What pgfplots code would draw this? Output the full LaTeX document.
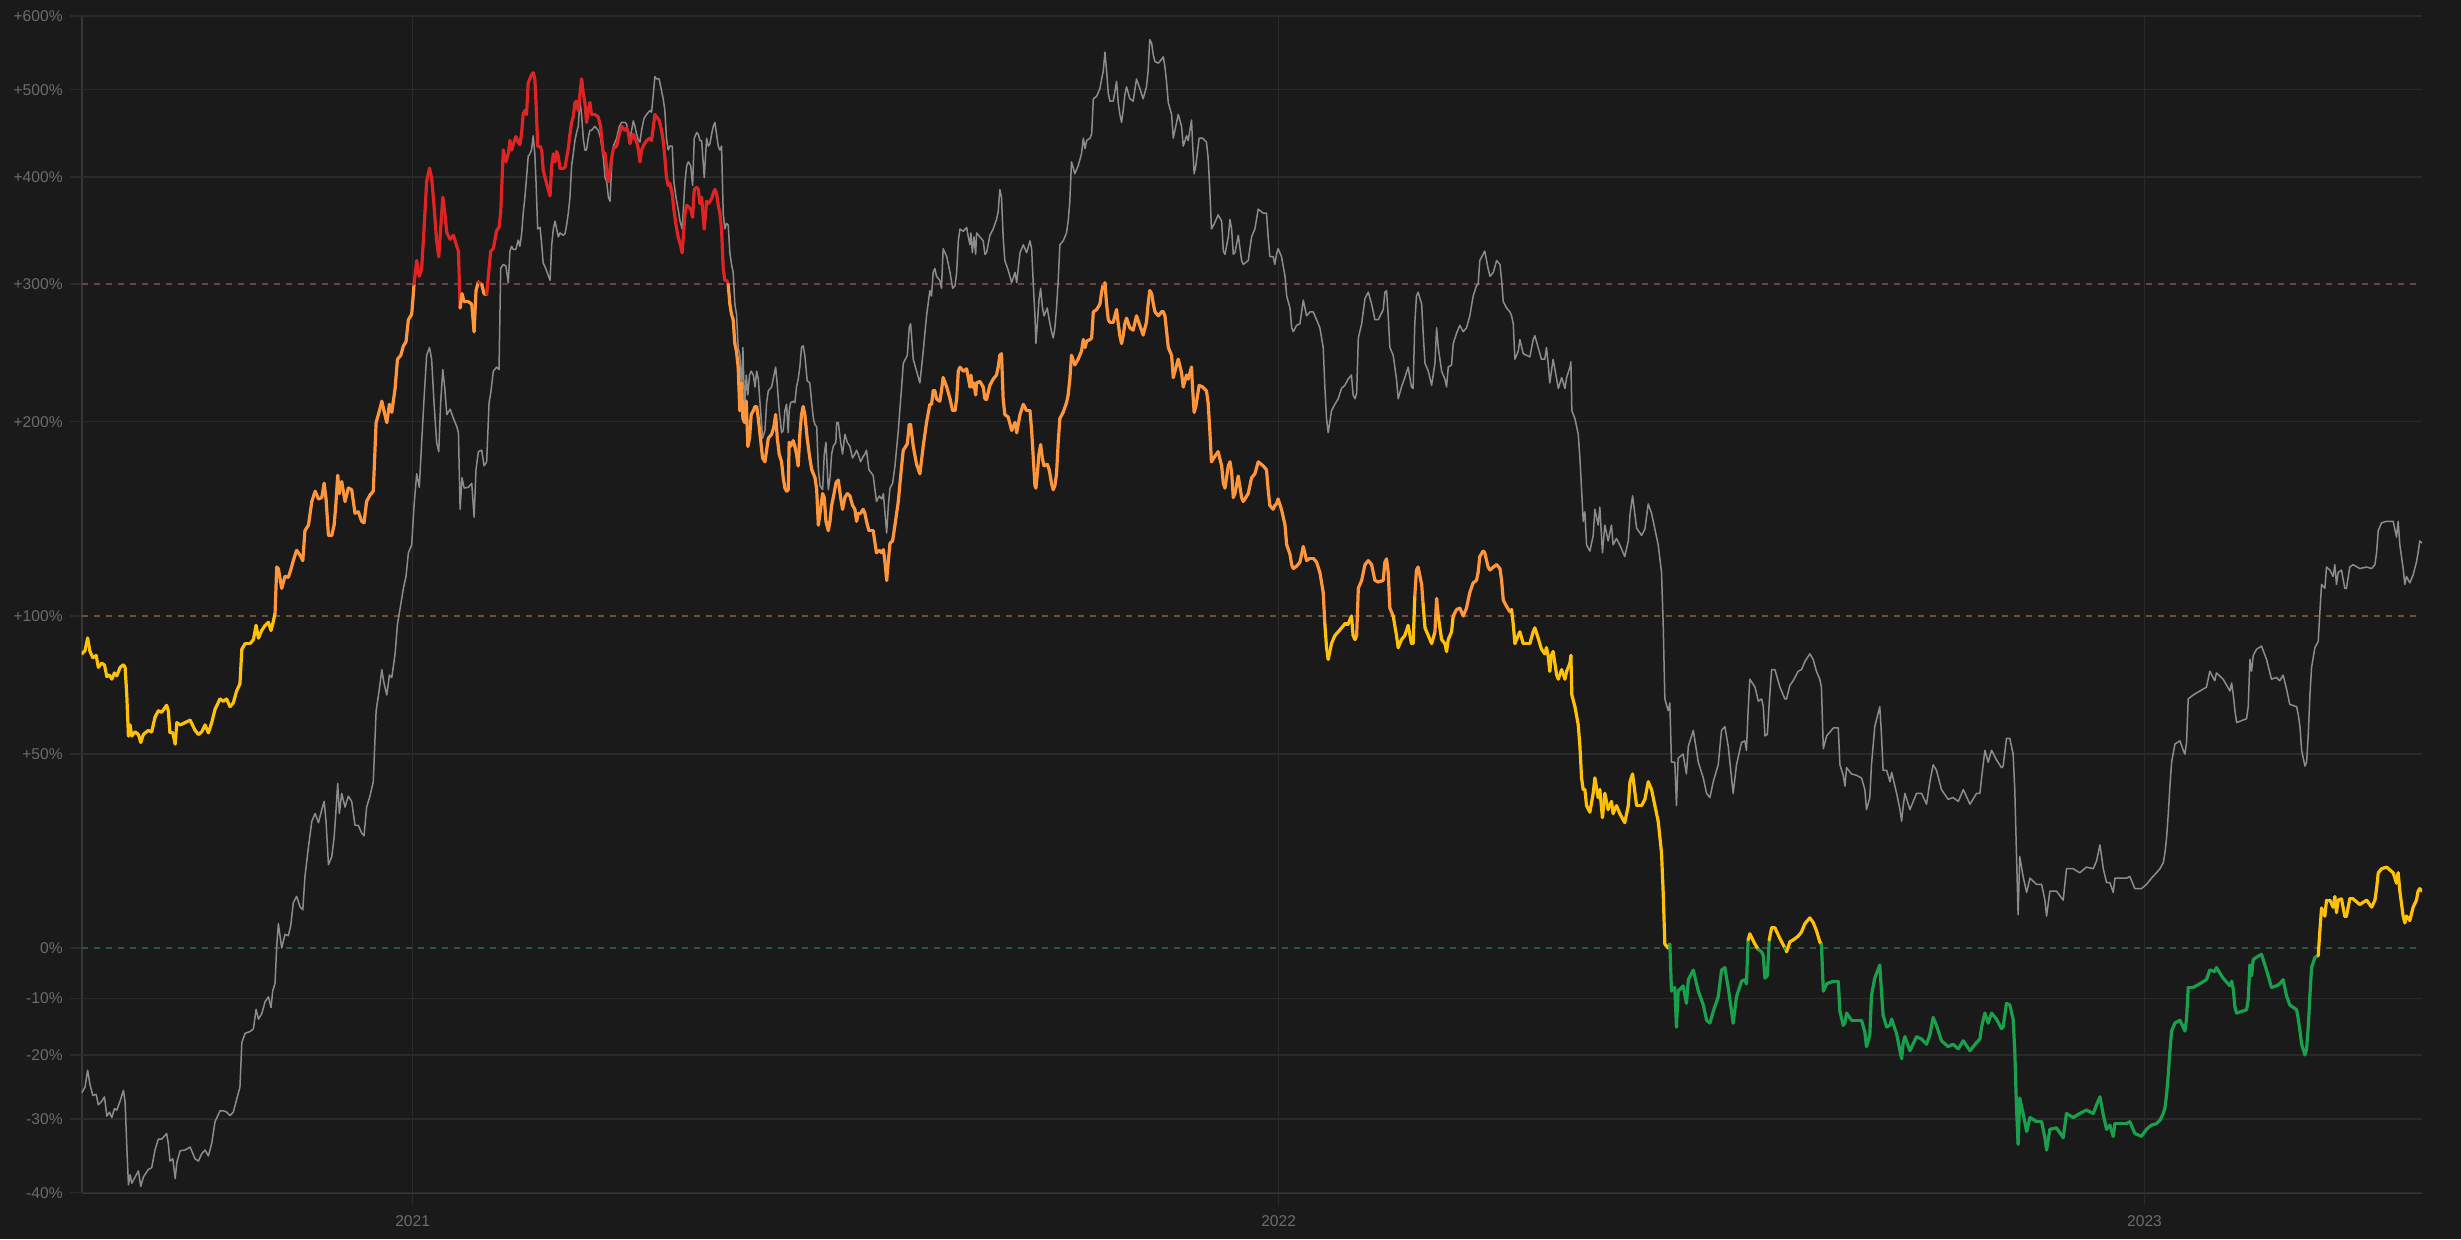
\documentclass[border=0pt]{standalone}
\usepackage{fontspec}
\setmainfont{Liberation Sans}
\usepackage{pgfplots}
\usepackage{pgfplotstable}
\pgfplotsset{compat=1.18}
\definecolor{bg}{HTML}{1A1A1A}
\definecolor{gridc}{HTML}{2A2A2A}
\definecolor{axisc}{HTML}{363636}
\definecolor{labc}{HTML}{6C6C6C}
\definecolor{grayline}{HTML}{8C8C8C}
\definecolor{cyellow}{HTML}{FFC107}
\definecolor{corange}{HTML}{FF963C}
\definecolor{cred}{HTML}{E02424}
\definecolor{cgreen}{HTML}{1AA04C}
\definecolor{d300}{HTML}{6A4444}
\definecolor{d100}{HTML}{6B5036}
\definecolor{d0}{HTML}{2B573B}

% d = days since 2021-01-01, g = grey series (%), c = coloured series (%)
\pgfplotstableread{
d g c
-139.5 -26.1 84.8
-138.1 -25.2 86.0
-137.0 -22.5 91.0
-136.0 -24.8 85.7
-134.8 -26.5 83.3
-133.4 -26.3 84.2
-132.5 -27.9 79.7
-131.1 -27.4 81.2
-129.9 -26.7 80.6
-128.9 -29.6 76.2
-127.8 -29.0 76.8
-126.8 -29.8 75.3
-125.7 -28.5 77.6
-124.7 -28.7 76.5
-123.3 -27.3 79.7
-121.9 -25.7 80.6
-121.2 -27.5 79.7
-120.5 -33.8 69.6
-119.8 -39.0 55.7
-119.1 -37.7 59.3
-118.4 -38.8 55.7
-117.0 -38.0 57.0
-115.6 -37.2 56.2
-114.6 -39.2 53.6
-113.5 -38.0 56.2
-111.4 -37.0 57.5
-110.0 -36.8 57.0
-108.6 -34.4 61.9
-107.2 -32.9 64.1
-105.8 -32.9 63.6
-103.7 -32.1 66.0
-103.0 -33.5 64.1
-102.3 -35.9 56.7
-101.1 -35.6 56.7
-100.1 -38.2 53.1
-99.4 -36.1 60.1
-98.0 -34.5 59.3
-95.9 -34.4 60.1
-93.8 -34.0 60.9
-91.7 -35.6 57.5
-90.3 -35.9 56.2
-88.9 -34.9 57.0
-87.5 -34.4 59.3
-86.1 -35.2 56.7
-84.7 -33.5 60.1
-83.3 -30.4 64.6
-81.2 -28.8 68.2
-79.8 -28.8 67.4
-78.4 -29.0 68.2
-77.0 -29.5 65.5
-75.6 -29.0 66.8
-74.2 -27.1 71.0
-72.8 -25.2 73.6
-72.0 -17.9 86.6
-70.6 -16.3 88.8
-68.5 -16.0 88.8
-67.1 -15.5 90.4
-66.0 -12.0 96.1
-65.0 -13.8 91.0
-63.6 -12.8 94.1
-62.2 -10.6 96.1
-60.8 -9.7 97.4
-59.7 -11.7 94.1
-59.0 -8.6 96.7
-58.0 -7.1 101.0
-57.3 0.3 121.5
-56.6 5.2 120.8
-55.2 0.0 111.9
-53.8 2.9 117.2
-52.4 2.6 116.8
-51.4 4.8 120.1
-50.3 9.9 124.5
-48.9 11.4 129.4
-47.5 9.0 127.1
-46.3 8.3 124.5
-45.4 16.1 139.0
-43.9 23.6 141.8
-42.5 30.3 154.0
-41.1 32.4 159.5
-39.7 29.9 155.3
-38.3 33.5 156.1
-37.3 35.8 163.8
-36.5 30.3 155.3
-35.5 19.0 136.6
-34.1 21.0 136.6
-33.1 26.0 141.8
-32.4 32.4 151.9
-31.6 41.0 168.2
-30.9 32.4 158.2
-29.9 38.1 164.7
-28.5 34.2 154.0
-27.1 37.3 161.2
-25.7 35.8 160.3
-24.3 29.2 147.8
-22.9 29.2 148.6
-21.5 27.1 143.7
-20.5 26.4 142.9
-19.4 34.2 154.0
-18.0 37.3 157.4
-16.6 41.5 159.5
-15.4 64.1 199.5
-14.0 71.9 207.0
-13.0 78.8 213.1
-12.1 73.9 207.0
-10.9 69.6 199.5
-9.8 76.8 211.1
-8.8 75.9 206.0
-7.4 84.8 221.6
-6.4 96.7 241.8
-5.0 105.0 244.6
-3.9 111.9 251.5
-2.8 117.2 254.4
-1.8 128.2 271.2
-0.4 132.0 275.5
0.6 151.9 299.7
1.7 169.1 320.0
2.8 161.6 306.4
3.8 187.4 313.1
4.8 214.7 348.6
5.9 244.6 395.2
7.1 250.3 409.3
8.0 241.8 399.3
9.0 212.1 371.3
10.1 187.4 337.6
11.0 181.8 323.5
11.8 212.1 348.6
12.7 234.5 379.2
13.5 222.6 365.1
14.4 204.5 344.9
15.8 208.0 339.1
17.2 202.0 342.7
18.6 197.0 332.6
19.3 193.2 328.3
20.0 149.9 280.4
20.8 166.9 291.9
21.7 161.2 285.4
23.5 161.6 285.4
24.9 163.8 283.6
25.9 145.8 262.0
26.7 171.4 294.5
27.7 181.8 301.7
29.1 182.7 299.7
30.1 173.6 291.9
31.2 175.9 291.3
32.2 212.1 313.1
32.9 218.4 328.3
34.0 233.4 330.5
35.4 236.2 347.1
36.4 234.5 350.1
37.1 313.1 363.6
38.2 316.6 428.9
39.3 315.2 416.1
40.3 301.0 424.6
41.0 328.3 439.5
41.7 332.6 428.9
42.4 329.8 435.0
43.5 329.8 443.9
44.5 338.3 437.7
45.2 332.6 435.0
45.9 343.4 446.7
46.6 363.6 470.7
47.3 379.2 474.4
48.0 399.3 469.7
48.7 422.0 508.5
49.4 424.6 513.5
50.1 428.9 518.6
50.8 444.9 521.6
51.5 424.6 513.5
52.0 395.2 483.9
52.7 348.6 433.3
53.7 350.1 433.3
54.4 334.0 428.9
55.0 317.9 407.6
55.8 314.5 399.3
56.7 309.7 391.2
57.9 303.0 380.8
58.6 334.0 411.8
59.3 348.6 424.6
60.0 356.0 416.1
60.7 348.6 427.2
61.4 341.2 422.0
62.1 344.9 409.3
63.5 342.7 409.3
64.2 344.2 410.1
64.9 352.3 420.3
65.6 363.6 430.6
66.3 379.2 446.7
67.0 411.8 460.4
67.7 424.6 466.9
68.4 439.5 483.9
69.1 448.5 485.8
69.8 455.7 474.4
70.5 486.8 493.6
71.2 469.7 513.5
71.9 442.2 495.5
72.6 428.9 483.9
73.3 428.9 460.4
74.0 442.2 474.4
74.7 451.2 483.9
75.4 451.2 469.7
76.8 455.7 469.7
78.2 451.2 466.9
79.2 442.2 455.7
80.4 420.3 424.6
81.1 399.3 425.5
81.8 395.2 407.6
82.5 379.2 395.2
83.2 375.3 407.6
83.9 411.8 420.3
84.6 433.3 430.6
86.0 442.2 433.3
87.1 455.7 446.7
88.1 460.4 455.7
89.5 460.4 451.2
90.2 458.5 453.9
90.9 446.7 448.5
91.6 442.2 436.0
92.3 451.2 442.2
93.0 462.2 446.7
93.7 455.7 442.2
94.4 446.7 437.7
95.1 440.4 430.6
95.8 437.7 416.1
96.5 451.2 428.9
97.5 465.0 435.0
98.6 469.7 439.5
100.0 474.4 442.2
100.7 472.5 439.5
101.4 493.6 453.9
102.1 516.6 469.7
102.8 513.5 466.9
103.9 513.5 463.0
104.9 498.5 451.2
105.6 488.7 439.5
106.3 474.4 420.3
107.0 442.2 399.3
107.7 428.9 391.2
108.4 433.3 393.6
109.4 433.3 383.2
110.1 395.2 367.5
111.0 379.2 352.3
111.9 367.5 341.2
112.7 356.0 335.5
113.6 348.6 326.9
114.8 395.2 363.6
115.5 411.8 371.3
116.2 416.1 369.8
117.2 411.8 367.5
118.0 391.2 359.8
118.7 442.2 387.1
119.7 448.5 389.5
120.4 446.7 387.1
121.1 439.5 372.9
121.8 439.5 379.2
122.9 399.3 348.6
123.9 442.2 375.3
124.6 433.3 372.9
125.3 435.9 375.3
126.0 446.7 377.6
126.7 455.7 383.2
127.4 460.4 387.1
128.1 446.7 383.2
128.8 433.3 371.3
129.5 428.9 363.6
130.2 433.3 348.6
130.9 363.6 313.1
131.6 348.6 303.0
132.3 353.8 303.0
133.0 352.3 299.7
133.7 326.9 283.6
134.4 316.6 275.5
135.1 309.7 271.2
135.8 283.6 253.2
136.5 275.5 247.5
137.2 250.3 236.2
137.9 244.6 207.0
138.6 220.0 225.3
139.2 250.3 202.0
139.9 207.0 199.5
140.6 230.7 213.1
141.3 217.3 185.0
142.0 230.7 189.8
142.7 233.4 204.5
143.6 230.7 207.0
144.3 222.6 209.6
145.0 233.4 209.6
145.7 227.9 202.0
146.4 212.1 192.2
147.5 189.8 178.1
148.5 194.6 175.9
149.2 212.1 182.7
149.9 220.0 189.8
151.3 222.6 192.2
152.3 230.7 197.0
153.0 236.2 204.5
153.7 223.7 189.8
154.5 207.0 180.4
155.5 193.2 175.9
156.2 194.6 166.9
156.9 207.0 161.2
157.6 211.1 159.5
158.3 193.2 160.3
158.7 207.0 187.4
159.3 212.1 185.0
160.4 213.1 188.4
161.1 212.1 185.0
161.8 222.6 180.4
162.5 227.9 173.6
163.2 236.2 192.2
163.9 250.3 204.5
164.6 251.5 209.6
165.3 244.6 204.5
166.3 226.8 189.8
167.4 225.3 178.1
168.2 212.1 171.4
168.9 202.0 169.1
169.6 198.0 166.9
170.3 197.0 160.3
171.0 171.4 141.8
171.7 162.5 147.8
172.8 160.3 158.2
173.5 180.4 156.1
174.2 187.4 143.7
175.2 160.3 139.0
175.9 166.9 143.7
176.6 180.4 151.9
177.3 185.0 156.1
178.4 187.4 163.8
178.7 199.5 164.7
179.4 199.5 165.6
180.4 187.4 156.1
181.2 180.4 149.9
182.2 192.2 156.1
183.2 187.4 158.2
184.3 185.0 157.0
185.4 178.1 151.9
186.4 180.4 149.9
187.1 182.7 143.7
187.8 180.4 147.8
188.8 175.9 147.8
189.9 179.0 149.9
190.6 180.4 147.8
191.3 182.7 143.7
192.3 171.4 139.0
194.1 168.2 139.0
195.5 154.0 128.2
196.7 156.9 129.3
197.7 155.3 128.2
198.4 158.2 129.7
199.1 147.8 123.8
199.8 137.8 115.4
200.5 151.9 124.5
201.2 161.2 132.8
202.3 163.8 133.9
203.3 173.6 141.8
204.7 194.6 154.0
206.1 222.6 173.6
206.8 238.9 182.7
208.5 244.6 186.4
209.3 265.0 198.0
209.9 268.1 198.0
211.0 241.8 185.0
212.4 233.4 174.5
213.8 225.3 169.1
215.2 247.5 185.0
216.6 274.2 199.5
218.0 294.5 211.1
218.7 290.0 211.1
219.4 309.7 219.9
220.1 313.1 219.9
220.8 306.4 214.7
222.2 303.0 213.1
222.9 296.4 219.9
223.6 330.5 229.0
225.1 323.5 222.6
226.5 309.7 214.7
227.6 296.4 207.0
228.6 298.4 207.0
229.3 309.7 214.7
230.0 337.6 233.4
230.7 348.6 236.2
232.1 346.4 233.4
233.5 350.1 235.0
234.2 341.2 229.0
234.9 334.0 222.6
235.3 344.9 230.6
235.9 326.9 222.6
236.6 341.2 225.3
237.3 325.5 217.3
237.7 344.9 225.3
239.1 341.2 226.3
240.5 337.6 222.6
241.2 325.5 214.7
241.9 326.9 214.2
243.3 342.7 223.7
244.7 348.6 227.9
246.1 357.5 230.7
246.8 365.1 236.2
247.5 387.1 244.6
248.2 379.2 245.8
248.9 341.2 214.7
249.6 320.0 204.5
251.0 311.7 203.0
252.5 301.0 194.6
253.9 309.7 199.5
254.6 301.0 193.2
256.0 326.9 204.5
257.4 334.0 211.1
258.8 326.9 207.0
260.2 337.6 207.0
260.9 330.5 194.6
261.6 299.7 178.1
262.3 274.2 162.5
262.7 253.2 161.2
263.3 268.1 169.1
264.0 286.7 180.4
264.7 296.4 186.0
265.4 281.7 178.1
266.1 274.2 173.6
267.5 280.4 174.5
268.3 271.2 171.4
269.3 262.0 163.8
270.0 257.3 160.3
270.7 265.0 162.5
271.4 280.4 169.1
272.1 303.0 187.4
272.8 334.0 202.0
274.2 337.6 206.0
275.6 344.9 212.1
276.3 356.0 217.3
277.0 375.3 227.9
277.7 416.1 244.6
279.1 403.4 237.8
280.5 411.8 241.8
281.9 424.6 247.5
282.7 442.2 256.1
283.4 430.6 250.3
284.1 439.5 255.0
285.5 442.2 256.1
286.2 446.7 257.3
286.9 488.7 277.3
288.3 491.7 279.2
289.7 501.5 283.6
290.4 513.5 293.2
291.1 523.7 299.7
291.8 548.9 301.0
292.5 523.7 283.6
293.2 495.5 271.2
293.9 485.8 269.3
295.3 485.8 269.3
296.7 510.5 279.2
297.4 483.9 268.1
298.1 469.7 259.1
298.8 460.4 253.2
299.5 474.4 259.1
300.2 493.6 268.1
300.9 503.5 272.4
302.3 488.7 265.0
303.7 485.8 263.2
305.1 513.5 274.2
306.5 501.5 266.9
307.9 488.7 259.6
309.3 503.5 269.3
310.0 523.7 283.6
310.7 566.2 294.5
311.5 560.7 291.9
312.2 544.6 283.6
312.9 536.2 277.3
314.3 534.1 274.2
315.7 539.4 277.3
316.4 542.5 277.3
317.1 528.9 274.2
317.8 508.5 262.0
318.5 483.9 250.3
319.9 469.7 244.6
320.6 442.2 229.0
321.3 451.2 233.4
322.7 469.7 241.8
324.1 455.7 232.3
324.8 433.3 222.6
326.2 444.9 230.7
326.9 439.5 227.9
328.3 463.1 236.2
328.7 437.7 222.6
329.4 403.4 206.0
330.1 411.8 209.6
331.5 442.2 223.7
333.0 442.2 222.6
334.6 437.7 219.9
335.3 420.3 212.1
336.0 387.1 194.6
336.7 348.6 175.9
338.1 354.5 179.0
339.5 362.0 181.8
341.0 356.0 173.6
341.7 328.3 163.8
342.4 325.5 161.2
343.8 341.2 173.6
344.5 357.5 175.9
345.2 348.6 170.0
345.9 325.5 156.1
346.6 326.9 158.2
348.0 342.7 167.8
349.4 320.0 156.1
350.1 316.6 154.0
352.2 320.0 158.2
353.6 341.2 166.9
355.0 348.6 169.1
356.4 367.5 175.9
358.5 363.6 173.6
359.9 363.6 171.4
360.6 341.2 160.3
361.3 323.5 151.9
362.7 323.5 149.9
363.4 316.6 151.9
364.1 325.5 152.7
364.8 330.5 155.3
366.2 323.5 149.9
367.7 306.4 141.8
368.4 290.0 132.0
369.8 280.4 127.5
370.5 265.0 122.6
371.2 262.0 120.8
372.6 266.9 121.9
374.0 268.1 123.8
375.4 286.7 131.2
376.8 274.2 124.5
378.2 277.3 125.6
379.6 277.3 125.6
381.0 271.2 123.8
382.4 265.0 119.0
383.8 250.3 110.1
384.5 222.6 96.7
385.2 202.0 87.2
385.9 193.2 82.7
387.3 207.0 88.8
388.7 211.1 92.0
390.1 214.7 93.5
391.5 221.6 95.1
392.9 223.7 96.7
394.3 227.9 96.7
395.7 230.7 100.0
396.4 217.3 92.0
397.2 214.7 90.4
397.9 218.4 92.0
398.6 257.3 111.9
400.0 268.1 115.4
401.4 288.0 122.6
402.8 293.2 124.5
404.2 283.6 122.6
405.6 271.2 115.4
407.0 271.2 114.7
409.1 279.2 115.4
409.8 293.2 123.8
410.5 294.5 125.3
411.2 274.2 119.0
411.9 250.3 103.3
413.3 244.6 100.0
414.7 227.9 92.0
415.4 214.7 87.2
416.8 222.6 90.4
418.2 229.0 92.0
419.6 236.2 96.1
421.0 222.6 88.8
421.7 221.6 88.8
422.4 268.1 108.4
423.1 290.0 120.1
423.8 293.2 121.5
425.3 283.6 113.6
425.9 262.0 105.0
426.7 238.9 95.1
428.1 233.4 92.0
429.5 223.7 88.8
430.9 238.9 93.5
431.6 265.0 107.4
432.3 250.3 100.0
433.7 233.4 90.4
435.1 227.9 88.8
435.8 222.6 85.7
436.5 236.2 90.4
437.9 237.8 93.5
438.6 253.2 100.0
440.0 260.9 102.7
441.4 266.9 103.3
442.8 262.0 100.0
444.2 265.0 103.3
445.6 274.2 110.1
447.0 290.0 114.3
448.4 298.4 115.4
449.1 299.7 119.0
449.8 320.0 126.4
451.2 325.5 129.0
451.9 328.3 128.2
453.3 313.1 121.5
454.1 306.4 120.1
455.5 309.7 121.5
456.9 320.0 122.6
458.3 316.6 120.8
459.0 303.0 115.4
459.7 285.4 106.7
461.1 280.4 104.0
462.5 277.3 101.7
463.2 274.2 102.7
463.9 268.1 96.7
464.6 241.8 88.8
466.0 247.5 92.0
466.7 256.1 93.5
468.1 245.8 88.8
469.5 244.6 88.8
470.9 243.5 88.8
472.3 256.1 93.5
473.0 259.1 95.1
474.4 250.3 91.0
475.8 241.8 86.6
477.2 241.8 84.8
477.9 250.3 87.2
478.6 238.9 84.2
479.3 225.3 78.2
480.0 233.4 84.2
480.7 241.8 85.7
482.2 227.9 76.8
482.9 221.6 75.3
484.3 229.0 78.8
485.7 221.6 75.3
486.4 229.0 78.2
487.8 236.2 81.2
488.2 240.0 84.2
488.6 207.0 69.6
489.9 202.0 65.5
491.3 192.2 59.3
492.0 178.1 52.4
492.7 160.3 42.6
493.4 143.7 39.2
494.1 148.6 39.2
494.8 132.0 34.6
496.2 129.0 32.8
497.6 136.6 38.1
498.3 149.9 42.6
499.7 141.8 36.9
500.4 151.0 39.2
501.5 128.2 31.3
502.5 141.8 38.1
503.9 133.9 33.5
505.3 141.8 35.8
506.0 132.0 32.4
507.4 135.1 34.6
508.8 132.0 32.4
510.9 126.4 29.9
512.4 133.9 34.6
513.1 147.0 41.5
514.2 157.0 43.8
515.9 140.2 34.6
518.0 136.6 34.6
519.4 139.8 36.4
520.8 152.7 41.5
522.2 147.8 39.2
523.6 139.8 34.6
525.0 132.0 30.3
526.4 119.0 22.0
527.1 96.7 12.3
527.8 68.2 0.8
529.2 64.1 0.0
529.9 66.8 0.8
530.6 47.4 -8.6
532.0 47.4 -7.9
532.7 34.6 -15.2
533.4 48.6 -8.6
535.5 49.9 -7.6
536.9 43.8 -10.9
537.7 52.4 -6.4
539.8 57.5 -4.5
541.9 47.4 -8.6
544.0 42.6 -11.2
545.4 38.1 -14.0
546.8 36.9 -14.5
548.2 41.5 -12.4
550.3 46.6 -9.7
551.7 57.5 -4.5
553.1 58.8 -4.0
554.5 52.4 -7.9
556.6 38.1 -14.5
558.0 46.6 -9.7
560.1 53.6 -6.7
561.5 54.1 -6.4
562.2 51.1 -7.2
562.9 64.1 1.7
563.6 75.3 3.0
565.8 72.4 0.8
567.2 67.4 -0.3
568.6 68.2 -0.8
569.3 65.5 -1.6
570.0 55.7 -6.1
571.0 56.2 -5.6
571.8 66.8 1.7
572.8 78.8 4.3
574.2 78.8 4.3
576.3 72.4 2.0
578.4 68.2 0.0
579.1 68.2 -0.8
580.5 73.0 1.3
581.9 74.7 1.7
584.0 78.2 2.5
585.4 78.8 3.4
586.8 81.8 5.2
588.9 84.8 6.5
590.3 82.7 5.5
591.7 78.2 3.7
593.1 75.3 1.3
593.8 72.4 0.8
594.6 51.6 -8.6
596.0 55.7 -7.2
598.8 58.3 -6.7
600.9 58.3 -6.7
601.6 46.6 -12.4
603.0 43.4 -14.9
603.7 40.2 -14.5
604.4 45.7 -12.7
606.5 43.8 -14.0
608.6 43.4 -14.0
610.7 42.6 -14.0
612.1 39.2 -16.1
612.8 33.5 -18.6
614.2 36.9 -16.6
614.9 46.6 -9.4
616.3 58.8 -6.1
618.4 65.5 -3.5
619.1 56.2 -8.6
619.8 44.9 -13.1
621.3 44.9 -15.2
622.7 41.5 -14.9
623.4 44.3 -13.8
625.5 38.1 -16.4
626.9 33.5 -19.3
627.6 30.3 -20.6
628.3 34.6 -17.9
629.0 38.1 -16.9
631.1 33.5 -19.3
633.9 38.1 -16.9
636.0 38.1 -17.3
638.1 35.0 -18.2
639.5 41.5 -16.6
640.9 46.6 -13.5
642.3 44.9 -14.9
644.4 39.2 -17.6
647.2 36.4 -18.6
649.3 36.9 -18.2
651.5 35.8 -19.0
653.6 39.2 -17.6
656.4 35.0 -19.3
659.2 38.1 -17.9
660.6 38.1 -17.3
661.3 42.6 -15.2
662.7 51.1 -12.7
664.1 47.4 -14.5
665.5 51.1 -12.7
667.6 48.1 -13.8
669.7 45.7 -15.5
670.4 46.2 -15.2
671.8 54.9 -10.9
673.2 54.9 -11.2
674.6 49.9 -13.8
675.3 39.2 -19.3
676.0 22.0 -28.1
676.7 7.2 -33.6
677.4 21.0 -26.9
678.8 16.1 -29.2
680.3 12.3 -31.8
681.7 15.7 -29.8
684.5 14.2 -30.4
686.6 14.2 -30.4
688.0 10.5 -32.7
688.7 6.9 -34.4
690.1 12.6 -31.5
692.9 12.6 -31.3
695.7 10.5 -32.7
697.1 18.0 -29.2
699.9 18.0 -29.8
702.7 17.0 -29.2
705.5 18.4 -28.7
708.4 18.0 -29.2
709.8 20.0 -27.9
711.2 24.0 -26.7
712.6 18.0 -29.4
714.0 14.6 -31.5
715.4 14.6 -30.9
716.8 12.3 -32.5
717.5 15.7 -30.7
719.6 15.7 -30.7
722.4 15.7 -30.7
723.8 16.1 -30.4
725.9 13.2 -32.1
728.7 13.2 -32.5
730.8 14.2 -31.5
732.9 15.7 -30.9
735.0 17.0 -30.7
736.5 18.0 -30.2
737.9 19.5 -29.2
738.6 22.0 -28.4
739.3 26.0 -26.3
740.0 32.4 -23.2
740.7 40.2 -19.3
741.4 47.4 -15.9
742.8 53.1 -14.5
744.9 54.1 -14.0
746.3 51.1 -15.2
747.0 49.9 -15.9
747.7 53.6 -13.8
748.4 68.2 -7.9
750.5 69.6 -7.9
753.3 71.0 -7.2
756.1 72.4 -6.4
757.5 78.2 -4.5
759.6 74.7 -4.8
760.3 77.6 -4.0
763.1 75.3 -6.1
766.0 71.0 -7.6
766.7 73.9 -6.7
767.4 69.6 -8.2
768.1 64.1 -11.6
768.8 60.1 -12.7
773.0 61.4 -12.1
773.7 65.5 -10.2
774.4 82.7 -3.5
775.1 78.2 -5.6
775.8 84.2 -2.4
777.2 86.6 -1.9
779.3 87.8 -1.3
781.4 82.7 -4.5
783.5 75.3 -7.9
785.6 75.9 -7.6
787.0 74.7 -7.2
788.4 76.8 -6.4
789.8 71.9 -9.4
791.2 66.3 -11.2
794.1 65.5 -12.1
794.8 62.7 -13.8
795.5 58.8 -15.9
796.2 51.1 -18.2
797.6 46.2 -20.0
798.3 47.4 -19.0
799.0 56.2 -15.2
799.7 69.6 -9.4
800.4 79.7 -4.0
801.8 87.2 -1.9
803.2 89.7 -1.6
803.9 101.7 3.7
804.6 113.6 8.7
806.0 111.9 6.9
806.7 121.5 10.5
808.1 120.1 10.5
809.5 117.2 8.9
810.2 122.6 11.3
810.9 113.6 7.7
811.6 119.0 10.5
813.0 120.1 10.8
814.4 111.9 6.9
815.1 111.9 6.9
816.5 121.5 10.8
817.9 122.6 10.8
820.7 120.8 9.5
823.6 121.5 10.5
825.7 120.8 8.9
827.1 122.6 10.5
827.8 128.2 13.2
828.5 139.0 17.0
829.9 142.9 18.0
832.0 143.7 18.4
834.8 143.7 17.0
836.2 135.8 14.5
836.9 143.7 17.0
837.6 132.0 12.6
839.0 120.8 6.9
839.7 113.6 5.4
840.4 117.2 6.9
841.8 114.3 5.9
843.2 117.9 8.9
844.6 123.8 10.5
845.3 128.2 12.6
846.0 133.9 13.2
847.0 132.8 12.6
}\series

\begin{document}
\begin{tikzpicture}
\useasboundingbox[fill=bg] (-40.85pt,-23.15pt) rectangle (1189.65pt,596.35pt);
\begin{axis}[
  at={(0pt,0pt)}, anchor=south west,
  scale only axis, width=1170.15pt, height=588.45pt,
  xmin=-139.5, xmax=847, ymin=-0.510826, ymax=1.945910,
  y filter/.expression={ln(1+y/100)},
  axis x line*=bottom, axis y line*=left,
  axis line style={draw=axisc, line width=1pt},
  tick align=outside, major tick length=6pt,
  tick style={draw=gridc, line width=0.75pt},
  xtick={0,365,730}, xticklabels={2021,2022,2023},
  xmajorgrids=true,
  ytick={-0.510826,-0.356675,-0.223144,-0.105361,0,0.405465,0.693147,1.098612,1.386294,1.609438,1.791759,1.945910},
  yticklabels={-40\%,-30\%,-20\%,-10\%,0\%,+50\%,+100\%,+200\%,+300\%,+400\%,+500\%,+600\%},
  extra y ticks={-0.510826,-0.356675,-0.223144,-0.105361,0.405465,1.098612,1.609438,1.791759,1.945910},
  extra y tick labels={},
  extra y tick style={grid=major},
  grid style={draw=gridc, line width=0.75pt},
  ticklabel style={font=\fontsize{7.8pt}{9pt}\selectfont, text=labc},
  xticklabel style={yshift=-2pt},
  colormap={zones}{color(0cm)=(cgreen) color(1cm)=(cyellow) color(2cm)=(corange) color(3cm)=(cred) color(4cm)=(cred)},
  colormap access=piecewise constant,
  point meta min=-0.693147, point meta max=2.079442,
]
\addplot[d300, line width=0.75pt, dash pattern=on 3.3pt off 2.7pt, forget plot] coordinates {(-139.5,300) (847,300)};
\addplot[d100, line width=0.75pt, dash pattern=on 3.3pt off 2.7pt, forget plot] coordinates {(-139.5,100) (847,100)};
\addplot[d0, line width=0.75pt, dash pattern=on 3.3pt off 2.7pt, forget plot] coordinates {(-139.5,0) (847,0)};
\addplot[grayline, line width=0.75pt, line join=round] table[x=d,y=g]{\series};
\addplot[mesh, line width=1.6pt, line cap=round, line join=round, point meta={ln(1+\thisrow{c}/100)}] table[x=d,y=c]{\series};
\end{axis}
\end{tikzpicture}
\end{document}
